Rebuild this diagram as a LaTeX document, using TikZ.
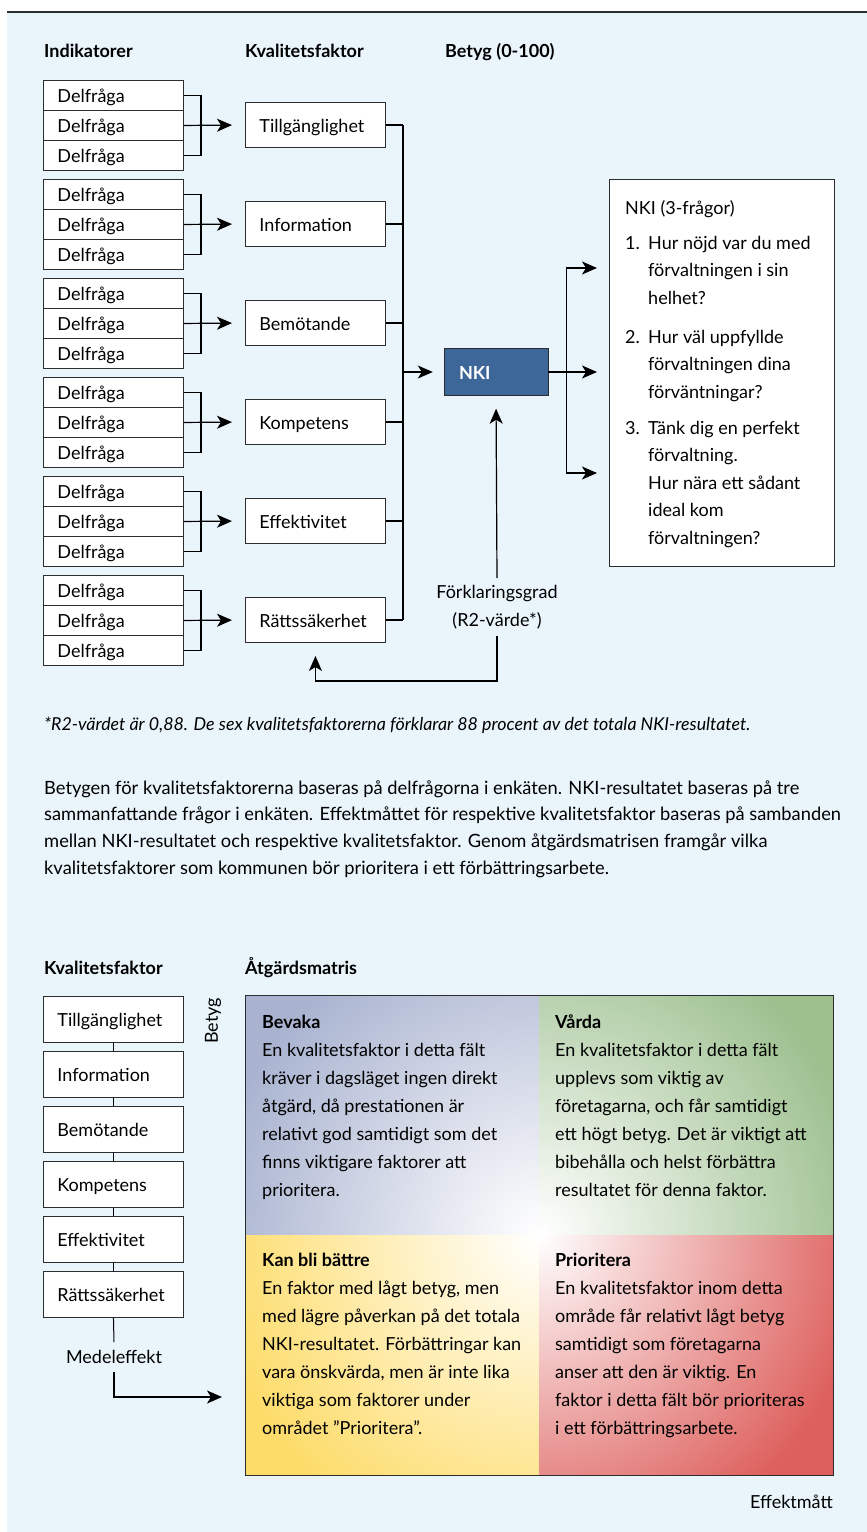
\documentclass[tikz,border=0pt]{standalone}
\usepackage{fontspec}
\setmainfont{Lato}
\usetikzlibrary{positioning,arrows.meta,calc}

\definecolor{bgblue}{RGB}{233,244,251}
\definecolor{nkiblue}{RGB}{61,102,153}
\definecolor{linegray}{RGB}{45,45,45}
\definecolor{qblue}{RGB}{169,179,208}
\definecolor{qgreen}{RGB}{157,192,143}
\definecolor{qyellow}{RGB}{253,220,106}
\definecolor{qred}{RGB}{221,96,93}

\tikzset{
  txt/.style={font=\fontsize{18}{27.5}\selectfont, inner sep=0pt},
  head/.style={font=\bfseries\fontsize{18}{22}\selectfont, inner sep=0pt, anchor=base west},
  qbox/.style={draw=linegray, fill=white, line width=0.9pt, font=\fontsize{18}{22}\selectfont,
    text width=112pt, align=left, inner xsep=14pt, inner ysep=0pt, minimum height=30pt,
    text height=14pt, text depth=0pt},
  fbox/.style={qbox, minimum height=45pt},
  link/.style={line width=1.2pt, draw=black},
  arr/.style={link, -{Stealth[length=15pt,width=13pt,inset=4pt]}},
}

\begin{document}
\begin{tikzpicture}[x=1pt, y=-1pt]
  \useasboundingbox (0,0) rectangle (867,1532);
  % --- Bakgrund ---
  \fill[bgblue] (7,12) rectangle (867,1532);
  \draw[linegray, line width=1.5pt] (7,12) -- (867,12);

  % --- Rubriker ---
  \node[head] (hind) at (44,57) {Indikatorer};
  \node[head] (hkval) at (245,57) {Kvalitetsfaktor};
  \node[head] (hbet) at (445,57) {Betyg (0-100)};

  % --- Delfrågor och kvalitetsfaktorer ---
  \coordinate (rail) at (403,0);
  \foreach \lab [count=\g] in {Tillgänglighet,Information,Bemötande,Kompetens,Effektivitet,Rättssäkerhet}{
    \pgfmathsetmacro\gtop{80+99*(\g-1)}
    \foreach \r in {1,2,3}
      \node[qbox, anchor=north west] (d\g-\r) at (43,{\gtop+30*(\r-1)}) {Delfråga};
    \node[fbox, anchor=west] (f\g) at (245,{\gtop+45}) {\lab};
    \draw[link] (d\g-1.east) -- ++(17,0) |- (d\g-3.east);
    \draw[arr, shorten >=13pt] (d\g-2.east) -- (f\g.west);
    \draw[link] (f\g.east) -- (rail |- f\g.east);
  }
  \draw[link] (rail |- f1.east) -- (rail |- f6.east);

  % --- NKI ---
  \node[draw=linegray, fill=nkiblue, text=white, font=\bfseries\fontsize{18}{22}\selectfont,
    text width=74pt, align=left, inner xsep=15pt, minimum height=47pt,
    text height=14pt, text depth=0pt] (nki) at (496,372) {NKI};
  \draw[arr, shorten >=11pt] (rail |- nki.west) -- (nki.west);

  % --- NKI (3-frågor) ---
  \node[draw=linegray, fill=white, line width=0.9pt, minimum width=225pt, minimum height=387pt,
    anchor=north west] (qs) at (609,179) {};
  \node[txt, anchor=base west] (qtitle) at (625,214) {NKI (3-frågor)};
  \node[txt, anchor=north west] (n1) at (625,229.75) {\strut 1.};
  \node[txt, anchor=north west, align=left] (t1) at (648,229.75) {\strut Hur nöjd var du med\\förvaltningen i sin\\helhet?};
  \node[txt, anchor=north west] (n2) at (625,323.75) {\strut 2.};
  \node[txt, anchor=north west, align=left] (t2) at (648,323.75) {\strut Hur väl uppfyllde\\förvaltningen dina\\förväntningar?};
  \node[txt, anchor=north west] (n3) at (625,414.75) {\strut 3.};
  \node[txt, anchor=north west, align=left] (t3) at (648,414.75) {\strut Tänk dig en perfekt\\förvaltning.\\Hur nära ett sådant\\ideal kom\\förvaltningen?};

  \coordinate (fork) at ($(nki.east)+(18,0)$);
  \draw[link] (nki.east) -- (fork);
  \draw[link] (fork |- 0,268) -- (fork |- 0,473);
  \foreach \yy in {268,372,473}
    \draw[arr, shorten >=12pt] (fork |- 0,\yy) -- (qs.west |- 0,\yy);

  % --- Förklaringsgrad ---
  \node[txt, align=center, inner ysep=7pt] (r2) at (497,607) {Förklaringsgrad\\(R2-värde*)};
  \draw[arr, shorten >=13pt] (r2.north) -- (nki.south);
  \draw[arr, shorten >=13pt] (r2.south) -- ++(0,45) -| (f6.south);

  % --- Texter ---
  \node[txt, anchor=base west, font=\itshape\fontsize{17.8}{22}\selectfont] (note) at (44,730)
    {*R2-värdet är 0,88. De sex kvalitetsfaktorerna förklarar 88 procent av det totala NKI-resultatet.};
  \node[txt, anchor=north west, align=left, font=\fontsize{18.3}{26.7}\selectfont] (para) at (44,775.3)
    {\strut Betygen för kvalitetsfaktorerna baseras på delfrågorna i enkäten. NKI-resultatet baseras på tre\\
     sammanfattande frågor i enkäten. Effektmåttet för respektive kvalitetsfaktor baseras på sambanden\\
     mellan NKI-resultatet och respektive kvalitetsfaktor. Genom åtgärdsmatrisen framgår vilka\\
     kvalitetsfaktorer som kommunen bör prioritera i ett förbättringsarbete.};

  % --- Åtgärdsmatris ---
  \node[head] (hkval2) at (44,974) {Kvalitetsfaktor};
  \node[head] (hmat) at (245,974) {Åtgärdsmatris};

  \foreach \lab [count=\k] in {Tillgänglighet,Information,Bemötande,Kompetens,Effektivitet,Rättssäkerhet}
    \node[qbox, minimum height=46pt, text height=15pt, anchor=north west] (g\k) at (43,{996+55*(\k-1)}) {\lab};
  \foreach \k [evaluate=\k as \n using int(\k+1)] in {1,...,5}
    \draw[link, line width=1pt] (g\k.south) -- (g\n.north);
  \node[txt, inner ysep=8pt] (mede) at (114,1357) {Medeleffekt};
  \draw[link, line width=1pt] (g6.south) -- (mede.north);
  \coordinate (medeend) at (222,1397);
  \draw[arr] (mede.south) |- (medeend);

  \coordinate (mc) at (539,1235);
  \foreach \col/\xa/\ya/\xb/\yb in {qblue/245/995/539/1235, qgreen/539/995/833/1235,
      qyellow/245/1235/539/1475, qred/539/1235/833/1475}{
    \begin{scope}
      \clip (\xa,\ya) rectangle (\xb,\yb);
      \fill[\col] (\xa,\ya) rectangle (\xb,\yb);
      \shade[inner color=white, outer color=\col] (mc) circle (330pt);
    \end{scope}
  }
  \node[draw=linegray, line width=1pt, minimum width=588pt, minimum height=480pt, inner sep=0pt] (mat) at (mc) {};
  \node[txt, rotate=90] (betyg) at (213,1021) {Betyg};

  \node[txt, anchor=north west, align=left, font=\fontsize{18}{28}\selectfont] (bevaka) at (262,1008.4)
    {\strut\textbf{Bevaka}\\En kvalitetsfaktor i detta fält\\kräver i dagsläget ingen direkt\\åtgärd, då prestationen är\\relativt god samtidigt som det\\finns viktigare faktorer att\\prioritera.};
  \node[txt, anchor=north west, align=left, font=\fontsize{18}{28}\selectfont] (varda) at (555,1008.4)
    {\strut\textbf{Vårda}\\En kvalitetsfaktor i detta fält\\upplevs som viktig av\\företagarna, och får samtidigt\\ett högt betyg. Det är viktigt att\\bibehålla och helst förbättra\\resultatet för denna faktor.};
  \node[txt, anchor=north west, align=left, font=\fontsize{18}{28}\selectfont] (kanbli) at (262,1246.4)
    {\strut\textbf{Kan bli bättre}\\En faktor med lågt betyg, men\\med lägre påverkan på det totala\\NKI-resultatet. Förbättringar kan\\vara önskvärda, men är inte lika\\viktiga som faktorer under\\området ”Prioritera”.};
  \node[txt, anchor=north west, align=left, font=\fontsize{18}{28}\selectfont] (prio) at (555,1246.4)
    {\strut\textbf{Prioritera}\\En kvalitetsfaktor inom detta\\område får relativt lågt betyg\\samtidigt som företagarna\\anser att den är viktig. En\\faktor i detta fält bör prioriteras\\i ett förbättringsarbete.};

  \node[txt, anchor=base east] (effekt) at (833,1508) {Effektmått};
\end{tikzpicture}
\end{document}
